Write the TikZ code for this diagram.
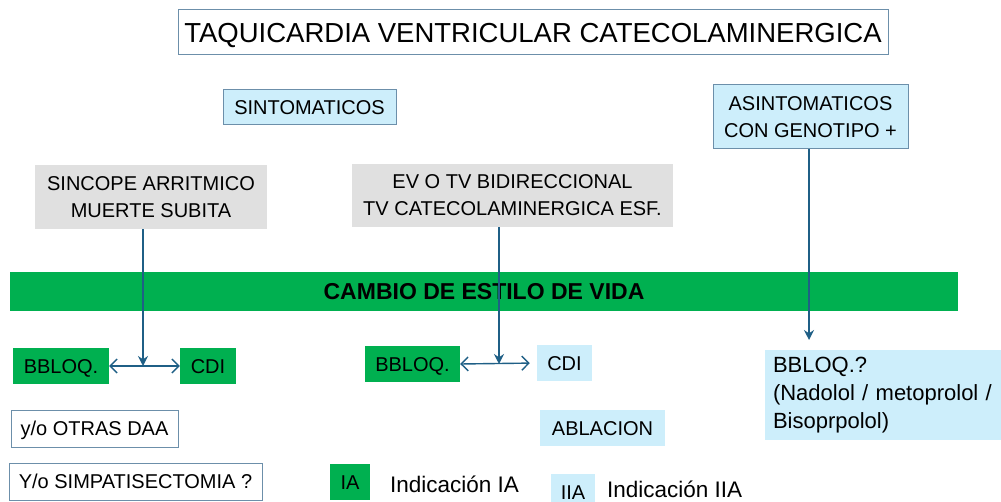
\documentclass[tikz,border=0pt]{standalone}
\usepackage{fontspec}
\setmainfont{Liberation Sans}
\usetikzlibrary{arrows.meta}
\definecolor{vgreen}{HTML}{00B050}
\definecolor{lblue}{HTML}{CDEEFB}
\definecolor{lgray}{HTML}{E0E0E0}
\definecolor{bord}{HTML}{6C8FAA}
\definecolor{arr}{HTML}{1F5F86}
\begin{document}
\begin{tikzpicture}[x=1pt,y=-1pt,
  box/.style={inner sep=0pt, font=\fontsize{20}{27}\selectfont, text=black},
  one/.style={text height=#1, text depth=0pt},
  one/.default=14.4pt,
  greenbox/.style={box, one, fill=vgreen},
  bluebox/.style={box, one, fill=lblue},
  bluebord/.style={box, fill=lblue, draw=bord, line width=1pt},
  graybox/.style={box, fill=lgray, align=center},
  whitebox/.style={box, one, draw=bord, line width=1pt},
  conn/.style={draw=arr, line width=1.4pt},
  downarr/.style={conn, -{Stealth[length=10pt,width=10pt]}},
  dblarr/.style={conn, {Straight Barb[length=7pt,width=14pt]}-{Straight Barb[length=7pt,width=14pt]}}
]
\useasboundingbox (0,0) rectangle (1001,502);
% title
\node[box, one=19.7pt, draw=bord, line width=1pt, minimum width=710pt, minimum height=45pt,
  font=\fontsize{27.5}{30}\selectfont] (title) at (533,32.5) {TAQUICARDIA VENTRICULAR CATECOLAMINERGICA};
% top categories
\node[bluebord, one, minimum width=173pt, minimum height=35pt] (sint) at (309.5,107.5) {SINTOMATICOS};
\node[bluebord, minimum width=195pt, minimum height=64pt, align=center] (asint) at (810.5,117) {ASINTOMATICOS\\CON GENOTIPO +};
% gray boxes
\node[graybox, minimum width=232pt, minimum height=64pt] (sinc) at (151,197) {SINCOPE ARRITMICO\\MUERTE SUBITA};
\node[graybox, minimum width=321pt, minimum height=63pt] (ev) at (512.5,195.5) {EV O TV BIDIRECCIONAL\\TV CATECOLAMINERGICA ESF.};
% green bar
\node[box, one=16.5pt, fill=vgreen, minimum width=948pt, minimum height=39pt, font=\fontsize{23}{26}\selectfont\bfseries] (bar) at (484,291.5) {CAMBIO DE ESTILO DE VIDA};
% left column
\node[greenbox, minimum width=96pt, minimum height=36pt] (bb1) at (61,366) {BBLOQ.};
\node[greenbox, minimum width=56pt, minimum height=36pt] (cdi1) at (208,366) {CDI};
\node[whitebox, minimum width=167pt, minimum height=37pt] (daa) at (94.5,428.5) {y/o OTRAS DAA};
\node[whitebox, minimum width=253pt, minimum height=37pt] (simp) at (135.5,481.5) {Y/o SIMPATISECTOMIA ?};
% middle column
\node[greenbox, minimum width=95pt, minimum height=36pt] (bb2) at (412.5,364) {BBLOQ.};
\node[bluebox, minimum width=55pt, minimum height=36pt] (cdi2) at (564.5,363) {CDI};
\node[bluebox, minimum width=125pt, minimum height=36pt] (abl) at (602.5,428) {ABLACION};
% right
\node[box, fill=lblue, minimum width=239pt, minimum height=90pt, align=left, text width=222pt,
  font=\fontsize{22}{28}\selectfont] (bbq) at (884,395) {BBLOQ.?\\(Nadolol / metoprolol /\\Bisoprpolol)};
% legend
\node[greenbox, minimum width=40pt, minimum height=36pt] (lia) at (350,482) {IA};
\node[box, one=16.1pt, anchor=west, font=\fontsize{22.5}{26}\selectfont] (tia) at (390,484) {Indicación IA};
\node[bluebox, minimum width=44pt, minimum height=36pt] (liia) at (573,492) {IIA};
\node[box, one=16.1pt, anchor=west, font=\fontsize{22.5}{26}\selectfont] (tiia) at (607,489) {Indicación IIA};
% connectors
\coordinate (j1) at (143,366);
\coordinate (j2) at (499,364);
\coordinate (j3) at (809,340);
\draw[downarr] (sinc.south -| j1) -- (j1);
\draw[downarr] (ev.south -| j2) -- (j2);
\draw[downarr] (asint.south -| j3) -- (j3);
\draw[dblarr] (bb1.east) -- (cdi1.west);
\draw[dblarr, shorten >=7pt] (bb2.east) -- (cdi2.west);
\end{tikzpicture}
\end{document}
